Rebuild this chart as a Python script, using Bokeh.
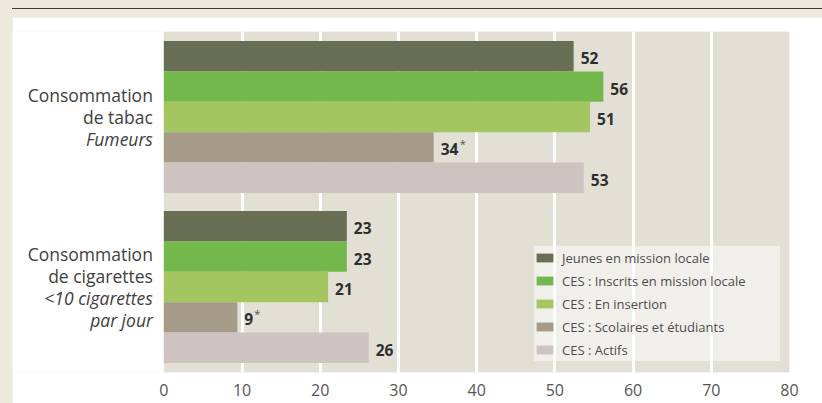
from bokeh.plotting import figure
from bokeh.models import (ColumnDataSource, FactorRange, Range1d, FixedTicker,
                          BoxAnnotation, GlobalInlineStyleSheet)
from bokeh.core.properties import value
from bokeh.embed import file_html
from bokeh.resources import INLINE

# ---------------- data ----------------
groups = ["Consommation de tabac", "Consommation de cigarettes"]
series = ["Jeunes en mission locale",
          "CES : Inscrits en mission locale",
          "CES : En insertion",
          "CES : Scolaires et étudiants",
          "CES : Actifs"]
colors = ["#686F55", "#73B84B", "#A4C661", "#A69A88", "#CDC4C1"]
tabac_values = [52.4, 56.2, 54.5, 34.5, 53.7]
cigarettes_values = [23.4, 23.4, 21.0, 9.4, 26.2]
tabac_labels = ["52", "56", "51", "34", "53"]
cigarettes_labels = ["23", "23", "21", "9", "26"]
tabac_marks = ["", "", "", "*", ""]
cigarettes_marks = ["", "", "", "*", ""]
group_lines = [
    [("Consommation", "normal"), ("de tabac", "normal"), ("Fumeurs", "italic")],
    [("Consommation", "normal"), ("de cigarettes", "normal"),
     ("<10 cigarettes", "italic"), ("par jour", "italic")],
]
x_ticks = [0, 10, 20, 30, 40, 50, 60, 70, 80]

FONT = "Open Sans"
DIGIT_W = 9.0

# ---------------- figure ----------------
factors = [(g, s) for g in reversed(groups) for s in reversed(series)]
y_range = FactorRange(factors=factors, factor_padding=0, group_padding=0.6,
                      range_padding=0.315, range_padding_units="absolute")

p = figure(width=810, height=392, x_range=Range1d(-19.35, x_ticks[-1]),
           y_range=y_range, output_backend="svg", toolbar_location=None,
           y_axis_location=None, min_border_left=0, min_border_right=33,
           min_border_top=14, min_border_bottom=37,
           background_fill_color="white", border_fill_color="white",
           outline_line_color=None)
p.stylesheets = [GlobalInlineStyleSheet(css=(
    "html{background:linear-gradient(#3b3b3b,#3b3b3b) 12px 8px/100% 1px no-repeat,#EDE9DF;"
    "overflow:hidden;}"
    "body{margin:17px 0 0 12px;}"))]

# beige plot panel between first and last tick
panel = BoxAnnotation(left=x_ticks[0], right=x_ticks[-1], fill_color="#E2DFD5",
                      fill_alpha=1.0, line_color=None, level="image")
p.add_layout(panel)

# bars and value labels
for i, s in enumerate(series):
    labels = [tabac_labels[i], cigarettes_labels[i]]
    src = ColumnDataSource(dict(
        y=[(g, s) for g in groups],
        right=[tabac_values[i], cigarettes_values[i]],
        label=labels,
        mark=[tabac_marks[i], cigarettes_marks[i]],
        mark_off=[7 + len(t) * DIGIT_W + 1 for t in labels],
    ))
    p.hbar(y="y", left=0, right="right", height=1.0, source=src,
           fill_color=colors[i], line_color=None, legend_label=s)
    p.text(x="right", y="y", text="label", source=src, x_offset=7, y_offset=2,
           text_font=value(FONT), text_font_style="bold",
           text_font_size="15.5px", text_color="#2e2e2e",
           text_align="left", text_baseline="middle")
    p.text(x="right", y="y", text="mark", source=src, x_offset="mark_off",
           y_offset=-4, text_font=value(FONT), text_font_size="11px",
           text_color="#555555", text_align="left", text_baseline="middle")

# group labels (left of the panel)
for style in ["normal", "italic"]:
    ys, texts, offs = [], [], []
    for g, lines in zip(groups, group_lines):
        n = len(lines)
        for k, (t, st) in enumerate(lines):
            if st == style:
                ys.append(g)
                texts.append(t)
                offs.append((k - (n - 1) / 2) * 22)
    gsrc = ColumnDataSource(dict(y=ys, text=texts, off=offs))
    p.text(x=-1.4, y="y", text="text", y_offset="off", source=gsrc,
           text_font=value(FONT), text_font_style=style,
           text_font_size="17.5px", text_color="#404040",
           text_align="right", text_baseline="middle")

# axes & grid
p.xaxis.ticker = FixedTicker(ticks=x_ticks)
p.xaxis.axis_line_color = None
p.xaxis.major_tick_line_color = None
p.xaxis.minor_tick_line_color = None
p.xaxis.major_tick_out = 0
p.xaxis.major_tick_in = 0
p.xaxis.major_label_standoff = 11
p.xaxis.major_label_text_font = FONT
p.xaxis.major_label_text_font_size = "16px"
p.xaxis.major_label_text_color = "#555555"

p.xgrid.ticker = FixedTicker(ticks=x_ticks[1:-1])
p.xgrid.grid_line_color = "white"
p.xgrid.grid_line_width = 3
p.ygrid.visible = False

# legend
lg = p.legend[0]
lg.location = (522, 11)
lg.padding = 8
lg.spacing = 0
lg.label_height = 23
lg.glyph_height = 11
lg.glyph_width = 21
lg.label_standoff = 7
lg.label_width = 218
lg.label_text_font = FONT
lg.label_text_font_size = "13px"
lg.label_text_color = "#4d4d4d"
lg.background_fill_color = "white"
lg.background_fill_alpha = 0.5
lg.border_line_color = None

open("out.html", "w").write(file_html(p, INLINE))
